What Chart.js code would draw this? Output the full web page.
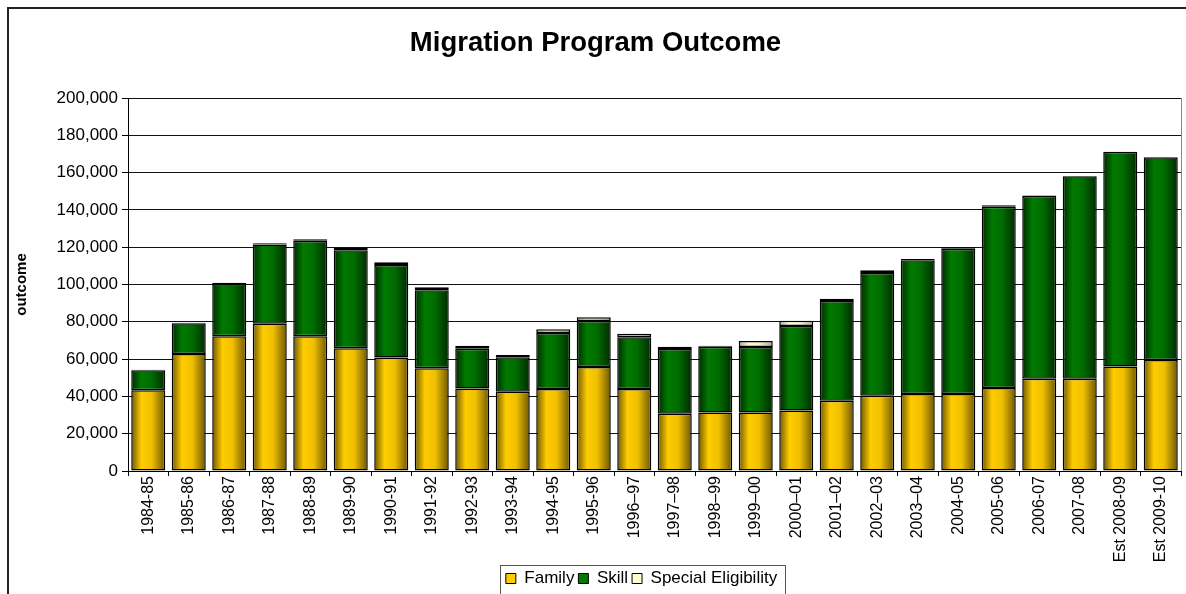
<!DOCTYPE html>
<html>
<head>
<meta charset="utf-8">
<script src="https://cdn.jsdelivr.net/npm/chart.js@4"></script>
<style>
  html,body{margin:0;padding:0;background:#fff;}
  #wrap{position:relative;width:1186px;height:594px;}
</style>
</head>
<body>
<div id="wrap"><canvas id="chart" width="1186" height="594"></canvas></div>
<script>
const years = ['1984-85','1985-86','1986-87','1987-88','1988-89','1989-90','1990-91','1991-92',
  '1992-93','1993-94','1994-95','1995-96','1996–97','1997–98','1998–99','1999–00','2000–01',
  '2001–02','2002–03','2003–04','2004-05','2005-06','2006-07','2007-08','Est 2008-09','Est 2009-10'];
const family  = [43300,62700,72200,79000,72200,65800,60800,55100,44300,42500,44000,55800,44000,
  30700,31400,31400,32500,37700,40400,41300,41300,44500,49500,49500,56000,59500];
const skill   = [10700,16500,27900,42400,51300,52500,49700,41800,21300,18500,30000,24600,27700,
  34700,35200,35100,45200,53500,65800,71700,77900,97200,98000,108500,115200,108700];
const special = [300,300,900,700,700,1400,1400,1600,1600,1200,2000,2000,1900,
  1200,600,3200,2900,1200,1400,700,800,800,200,200,0,0];
const yTicks = [0,20000,40000,60000,80000,100000,120000,140000,160000,180000,200000];

const BAR_PCT = 0.84;
const FONT = 'Arial, "Liberation Sans"';
const LEGEND_DX = 46, LEGEND_DY = 3;

// horizontal shading across each bar, like the old office charts
function shade(dark, light, mid, solid){
  return function(c){
    const chart = c.chart;
    if(c.type !== 'data' || !chart.chartArea) return solid;
    const cx = chart.scales.x.getPixelForValue(c.dataIndex);
    const w = chart.chartArea.width / years.length * BAR_PCT;
    const g = chart.ctx.createLinearGradient(cx - w/2, 0, cx + w/2, 0);
    g.addColorStop(0, dark);
    g.addColorStop(0.3, light);
    g.addColorStop(0.6, mid);
    g.addColorStop(1, dark);
    return g;
  };
}

const frame = {
  id:'frame',
  beforeDraw(chart){
    const ctx = chart.ctx, lg = chart.legend;
    // legend sits a bit right of centre in the original
    lg.left += LEGEND_DX; lg.right += LEGEND_DX;
    lg.top += LEGEND_DY; lg.bottom += LEGEND_DY;
    ctx.save();
    ctx.strokeStyle = '#222';
    ctx.lineWidth = 2;
    ctx.beginPath();
    ctx.moveTo(8, 600); ctx.lineTo(8, 8); ctx.lineTo(1186, 8);
    ctx.stroke();
    ctx.restore();
  },
  afterDraw(chart){
    const ctx = chart.ctx, a = chart.chartArea;
    ctx.save();
    ctx.strokeStyle = '#888';
    ctx.lineWidth = 1;
    ctx.beginPath();
    ctx.moveTo(a.right + 0.5, a.top); ctx.lineTo(a.right + 0.5, a.bottom);
    ctx.stroke();
    const hb = chart.legend.legendHitBoxes;
    if(hb && hb.length){
      const l = hb[0].left - 6 + LEGEND_DX;
      const r = hb[hb.length-1].left + hb[hb.length-1].width + 8 + LEGEND_DX;
      const t = hb[0].top - 5 + LEGEND_DY;
      ctx.strokeStyle = '#555';
      ctx.strokeRect(Math.round(l)+0.5, Math.round(t)+0.5, Math.round(r-l), 60);
    }
    ctx.restore();
  }
};

const solidColors = ['#FFCC00','#007A00','#FFFFCC'];

new Chart(document.getElementById('chart'),{
  type:'bar',
  data:{
    labels: years,
    datasets:[
      {label:'Family', data:family,
       backgroundColor: shade('#6e5700','#FFCC00','#f0c000','#FFCC00')},
      {label:'Skill', data:skill,
       backgroundColor: shade('#002a00','#007A00','#006c00','#007A00')},
      {label:'Special Eligibility', data:special,
       backgroundColor: shade('#a8a890','#FFFFCC','#f5f5c8','#FFFFCC')}
    ].map(d=>Object.assign(d,{borderColor:'#000',borderWidth:1.5,borderSkipped:false,
      barPercentage:BAR_PCT,categoryPercentage:1}))
  },
  options:{
    responsive:false,
    animation:false,
    layout:{padding:{left:10,right:5,top:0,bottom:0}},
    plugins:{
      title:{display:true,text:'Migration Program Outcome',color:'#000',
        font:{family:FONT,size:27.5,weight:'bold'},
        padding:{top:27,bottom:38}},
      legend:{position:'bottom',
        labels:{color:'#000',font:{family:FONT,size:17},
          boxWidth:10,boxHeight:10,padding:4,
          generateLabels(chart){
            return chart.data.datasets.map((d,i)=>({
              text:d.label, fillStyle:solidColors[i], strokeStyle:'#000', lineWidth:1,
              datasetIndex:i, hidden:false, fontColor:'#000'
            }));
          }}},
      tooltip:{enabled:false}
    },
    scales:{
      x:{stacked:true,
        grid:{display:true,drawOnChartArea:false,offset:true,tickLength:5,color:'#000'},
        border:{color:'#000',width:1},
        ticks:{color:'#000',minRotation:90,maxRotation:90,autoSkip:false,padding:0,
          font:{family:FONT,size:16}},
        afterFit(s){ s.height = 92; }
      },
      y:{stacked:true,min:0,max:200000,
        afterBuildTicks(s){ s.ticks = yTicks.map(v=>({value:v})); },
        grid:{color:'#111',lineWidth:1,tickLength:6,tickColor:'#000'},
        border:{color:'#000',width:1},
        ticks:{color:'#000',padding:4,font:{family:FONT,size:17},
          callback:v=>v.toLocaleString('en-US')},
        title:{display:true,text:'outcome',color:'#000',
          font:{family:FONT,size:15,weight:'bold'},padding:{top:3,bottom:0}},
        afterFit(s){ s.width = 118; }
      }
    }
  },
  plugins:[frame]
});
</script>
</body>
</html>
